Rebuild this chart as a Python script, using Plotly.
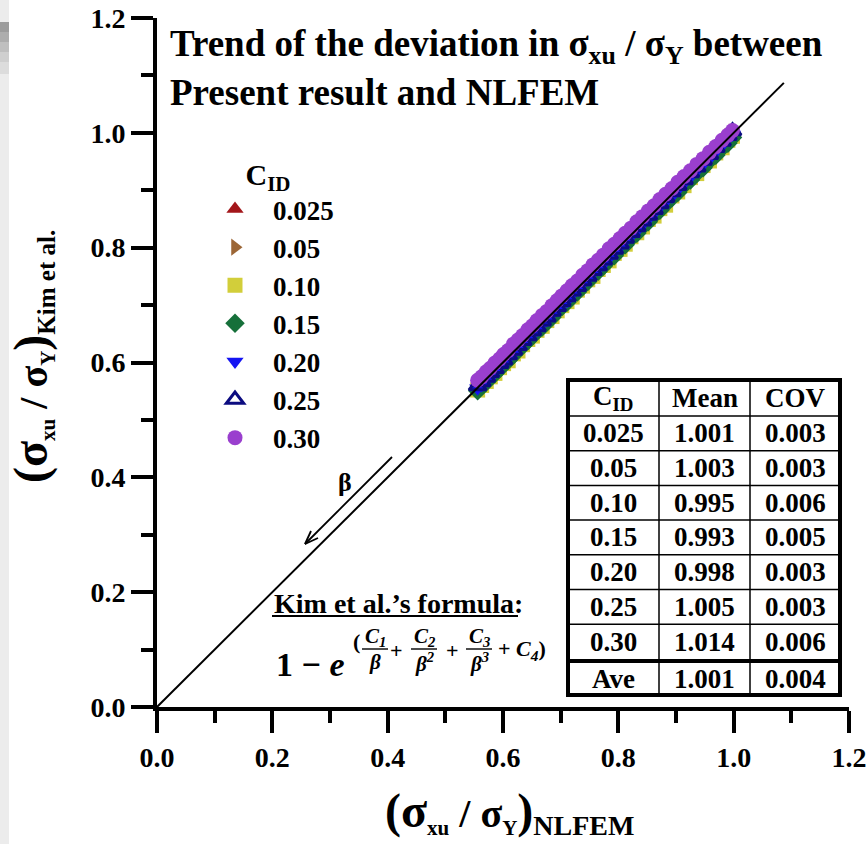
import plotly.graph_objects as go

# ---------------- data ----------------
# (sigma_xu / sigma_Y) from NLFEM, shared abscissa of every C_ID group
nlfem = [0.556, 0.563, 0.571, 0.578, 0.586, 0.594, 0.601, 0.609, 0.618, 0.626,
         0.634, 0.643, 0.651, 0.659, 0.668, 0.676, 0.685, 0.694, 0.702, 0.711,
         0.720, 0.729, 0.738, 0.747, 0.756, 0.765, 0.774, 0.784, 0.793, 0.803,
         0.812, 0.822, 0.832, 0.842, 0.852, 0.862, 0.872, 0.882, 0.893, 0.903,
         0.914, 0.925, 0.936, 0.947, 0.958, 0.969, 0.980, 0.990, 0.998]

# (sigma_xu / sigma_Y) from Kim et al.'s formula, one list per C_ID
kim_c0025 = [0.557, 0.562, 0.573, 0.578, 0.589, 0.595, 0.600, 0.611, 0.619, 0.629,
             0.634, 0.645, 0.652, 0.657, 0.670, 0.679, 0.685, 0.695, 0.704, 0.710,
             0.723, 0.730, 0.738, 0.749, 0.757, 0.768, 0.773, 0.785, 0.795, 0.803,
             0.815, 0.823, 0.831, 0.844, 0.853, 0.865, 0.872, 0.884, 0.894, 0.901,
             0.916, 0.926, 0.939, 0.947, 0.959, 0.971, 0.979, 0.991, 1.000]
kim_c005 = [0.558, 0.565, 0.572, 0.581, 0.587, 0.597, 0.603, 0.610, 0.621, 0.627,
            0.637, 0.644, 0.654, 0.661, 0.669, 0.679, 0.687, 0.695, 0.705, 0.713,
            0.721, 0.732, 0.740, 0.749, 0.759, 0.767, 0.776, 0.787, 0.795, 0.805,
            0.815, 0.824, 0.834, 0.845, 0.854, 0.865, 0.874, 0.885, 0.895, 0.906,
            0.916, 0.928, 0.938, 0.950, 0.960, 0.972, 0.982, 0.993, 1.001]
kim_c010 = [0.552, 0.560, 0.567, 0.575, 0.581, 0.591, 0.598, 0.603, 0.615, 0.620,
            0.631, 0.640, 0.646, 0.656, 0.663, 0.673, 0.680, 0.690, 0.699, 0.706,
            0.714, 0.726, 0.733, 0.744, 0.750, 0.762, 0.769, 0.777, 0.790, 0.797,
            0.806, 0.819, 0.826, 0.836, 0.849, 0.855, 0.868, 0.874, 0.890, 0.897,
            0.908, 0.922, 0.929, 0.943, 0.951, 0.965, 0.974, 0.987, 0.994]
kim_c015 = [0.551, 0.559, 0.566, 0.574, 0.581, 0.589, 0.597, 0.604, 0.613, 0.622,
            0.629, 0.638, 0.646, 0.655, 0.662, 0.671, 0.679, 0.690, 0.697, 0.705,
            0.716, 0.723, 0.733, 0.741, 0.752, 0.759, 0.768, 0.779, 0.786, 0.798,
            0.805, 0.817, 0.825, 0.837, 0.845, 0.857, 0.865, 0.876, 0.887, 0.896,
            0.909, 0.918, 0.930, 0.939, 0.952, 0.961, 0.974, 0.982, 0.992]
kim_c020 = [0.555, 0.561, 0.570, 0.576, 0.583, 0.592, 0.600, 0.607, 0.617, 0.624,
            0.633, 0.642, 0.650, 0.657, 0.667, 0.674, 0.684, 0.692, 0.701, 0.707,
            0.719, 0.727, 0.737, 0.745, 0.755, 0.763, 0.771, 0.782, 0.792, 0.801,
            0.811, 0.820, 0.829, 0.840, 0.850, 0.860, 0.871, 0.880, 0.889, 0.901,
            0.912, 0.923, 0.934, 0.945, 0.955, 0.967, 0.978, 0.990, 0.997]
kim_c025 = [0.559, 0.566, 0.574, 0.582, 0.589, 0.598, 0.604, 0.613, 0.621, 0.629,
            0.638, 0.646, 0.655, 0.662, 0.672, 0.679, 0.689, 0.697, 0.706, 0.714,
            0.724, 0.732, 0.742, 0.750, 0.760, 0.768, 0.778, 0.788, 0.797, 0.806,
            0.816, 0.826, 0.836, 0.846, 0.856, 0.866, 0.876, 0.887, 0.897, 0.908,
            0.918, 0.930, 0.940, 0.952, 0.962, 0.974, 0.985, 0.995, 1.003]
kim_c030 = [0.569, 0.575, 0.584, 0.590, 0.599, 0.606, 0.614, 0.621, 0.632, 0.639,
            0.647, 0.657, 0.664, 0.673, 0.682, 0.689, 0.699, 0.708, 0.716, 0.725,
            0.734, 0.742, 0.752, 0.760, 0.770, 0.778, 0.787, 0.798, 0.806, 0.816,
            0.825, 0.834, 0.845, 0.854, 0.864, 0.873, 0.884, 0.893, 0.903, 0.914,
            0.924, 0.934, 0.945, 0.955, 0.966, 0.976, 0.987, 0.996, 1.004]

cid_labels = ["0.025", "0.05", "0.10", "0.15", "0.20", "0.25", "0.30"]
kim_series = [kim_c0025, kim_c005, kim_c010, kim_c015, kim_c020, kim_c025, kim_c030]

# summary statistics of Kim et al. / NLFEM
mean_ratio = [1.001, 1.003, 0.995, 0.993, 0.998, 1.005, 1.014]
cov_ratio = [0.003, 0.003, 0.006, 0.005, 0.003, 0.003, 0.006]
ave_mean = 1.001
ave_cov = 0.004

axis_ticks = [0.0, 0.2, 0.4, 0.6, 0.8, 1.0, 1.2]
minor_ticks = [0.1, 0.3, 0.5, 0.7, 0.9, 1.1]
equality_end = 1.087  # y = x reference line runs from 0 to here

# ---------------- styles ----------------
symbols = ["triangle-up", "triangle-right", "square", "diamond",
           "triangle-down", "triangle-up-open", "circle"]
colors = ["#a3161a", "#9c6636", "#d2ce3a", "#16703a", "#1414f2", "#0c0c80", "#9a3fce"]

SERIF = "Liberation Serif"
W, H = 867, 844
L, R, T, B = 157, 849, 18, 707  # plot area in page pixels


def px(x):
    return (x - L) / (R - L)


def py(y):
    return (B - y) / (B - T)


fig = go.Figure()

for lab, ys, sym, col in zip(cid_labels, kim_series, symbols, colors):
    open_sym = sym.endswith("-open")
    fig.add_trace(go.Scatter(
        x=nlfem, y=ys, mode="markers", name=lab,
        marker=dict(symbol=sym, size=15, color=col,
                    line=dict(width=3 if open_sym else 0, color=col)),
    ))

fig.add_trace(go.Scatter(
    x=[0, equality_end], y=[0, equality_end], mode="lines",
    line=dict(color="black", width=2), showlegend=False, hoverinfo="skip",
))

annotations = []
shapes = []


def text(x, y, s, size, xanchor="center", yanchor="middle", **kw):
    annotations.append(dict(
        x=px(x), y=py(y), xref="paper", yref="paper", text=s, showarrow=False,
        xanchor=xanchor, yanchor=yanchor,
        font=dict(family=SERIF, size=size, color="black", weight="bold"), **kw))


def seg(x0, y0, x1, y1, width=1.5):
    shapes.append(dict(type="line", xref="paper", yref="paper",
                       x0=px(x0), y0=py(y0), x1=px(x1), y1=py(y1),
                       line=dict(color="black", width=width)))


# title
text(168, 46, "Trend of the deviation in σ<sub>xu</sub> / σ<sub>Y</sub> between", 37, xanchor="left")
text(168, 92, "Present result and NLFEM", 37, xanchor="left")

# axis titles
text(509, 812,
     '<span style="font-size:48px">(σ</span><sub><span style="font-size:21px">xu</span></sub>'
     '<span style="font-size:40px"> / σ</span><sub><span style="font-size:21px">Y</span></sub>'
     '<span style="font-size:48px">)</span><sub><span style="font-size:28px">NLFEM</span></sub>',
     40)
text(32, 357,
     '<span style="font-size:48px">(σ</span><sub><span style="font-size:21px">xu</span></sub>'
     '<span style="font-size:40px"> / σ</span><sub><span style="font-size:21px">Y</span></sub>'
     '<span style="font-size:48px">)</span><sub><span style="font-size:25px">Kim et al.</span></sub>',
     40, textangle=-90)

# direction of increasing beta
text(345, 483, "β", 26)
seg(392, 457, 305, 544, 1.8)
seg(305, 544, 318, 538, 1.8)
seg(305, 544, 311, 531, 1.8)

# Kim et al.'s formula
text(272, 603, "Kim et al.’s formula:", 28, xanchor="left")
seg(272, 616, 518, 616, 2)
text(274, 664, "1 − <i>e</i>", 34, xanchor="left")
text(356, 641, "(", 22)
for cx, num, den in [(375, "C<sub>1</sub>", "β"), (424, "C<sub>2</sub>", "β<sup>2</sup>"),
                     (479, "C<sub>3</sub>", "β<sup>3</sup>")]:
    text(cx, 637, "<i>" + num + "</i>", 21)
    seg(cx - 13, 649, cx + 13, 649, 1.4)
    text(cx, 662, "<i>" + den + "</i>", 21)
text(396, 650, "+", 22)
text(452, 650, "+", 22)
text(496, 650, "+ <i>C<sub>4</sub></i>)", 22, xanchor="left")

# summary table
tl, tr, tt, tb = 568, 840, 380, 695
col_x = [tl, 659, 750, tr]
row_y = [tt, 416, 450.7, 485.4, 520.1, 554.8, 589.5, 624.2, 659, 663, tb]
shapes.append(dict(type="rect", xref="paper", yref="paper",
                   x0=px(tl), x1=px(tr), y0=py(tt), y1=py(tb),
                   fillcolor="white", line=dict(color="black", width=4)))
for cxl in col_x[1:-1]:
    seg(cxl, tt, cxl, tb, 1.5)
for ry in row_y[1:8]:
    seg(tl, ry, tr, ry, 1.5)
seg(tl, 661, tr, 661, 4)
centers = [(col_x[i] + col_x[i + 1]) / 2 for i in range(3)]
text(centers[0], 398, "C<sub>ID</sub>", 27)
text(centers[1], 398, "Mean", 27)
text(centers[2], 398, "COV", 27)
for i, (lab, m, c) in enumerate(zip(cid_labels, mean_ratio, cov_ratio)):
    cy = (row_y[i + 1] + row_y[i + 2]) / 2
    text(centers[0], cy, lab, 27)
    text(centers[1], cy, f"{m:.3f}", 27)
    text(centers[2], cy, f"{c:.3f}", 27)
text(centers[0], 679, "Ave", 27)
text(centers[1], 679, f"{ave_mean:.3f}", 27)
text(centers[2], 679, f"{ave_cov:.3f}", 27)

# grey strip at the left page edge
shapes.append(dict(type="rect", xref="paper", yref="paper", x0=px(0), x1=px(9),
                   y0=py(844), y1=py(0), fillcolor="#ececec", line=dict(width=0), layer="below"))
for y0, y1, c in [(22, 32, "#9c9c9c"), (32, 42, "#adadad"), (42, 52, "#bfbfbf"),
                  (52, 62, "#cfcfcf"), (62, 74, "#dcdcdc")]:
    shapes.append(dict(type="rect", xref="paper", yref="paper", x0=px(0), x1=px(9),
                       y0=py(y1), y1=py(y0), fillcolor=c, line=dict(width=0), layer="below"))

axis_common = dict(
    range=[0, 1.2], tickvals=axis_ticks, ticktext=[f"{v:.1f}" for v in axis_ticks],
    ticks="outside", ticklen=22, tickwidth=4, tickcolor="black",
    showline=True, linewidth=4, linecolor="black", mirror=False,
    showgrid=False, zeroline=False, automargin=False,
    minor=dict(tickvals=minor_ticks, ticks="outside",
               ticklen=12, tickwidth=4, tickcolor="black"),
    tickfont=dict(family=SERIF, size=28, color="black", weight="bold"),
)

fig.update_layout(
    width=W, height=H,
    margin=dict(l=L, r=W - R, t=T, b=H - B, autoexpand=False),
    paper_bgcolor="white", plot_bgcolor="white",
    xaxis=axis_common, yaxis=axis_common,
    showlegend=True,
    legend=dict(
        x=px(197), y=py(146), xanchor="left", yanchor="top",
        bgcolor="rgba(0,0,0,0)", borderwidth=0, traceorder="normal",
        itemwidth=66,
        font=dict(family=SERIF, size=27, color="black", weight="bold"),
        title=dict(text="C<sub>ID</sub>", side="top center",
                   font=dict(family=SERIF, size=30, color="black", weight="bold")),
        itemsizing="trace",
    ),
    annotations=annotations, shapes=shapes,
)

fig.write_html("out.html")
